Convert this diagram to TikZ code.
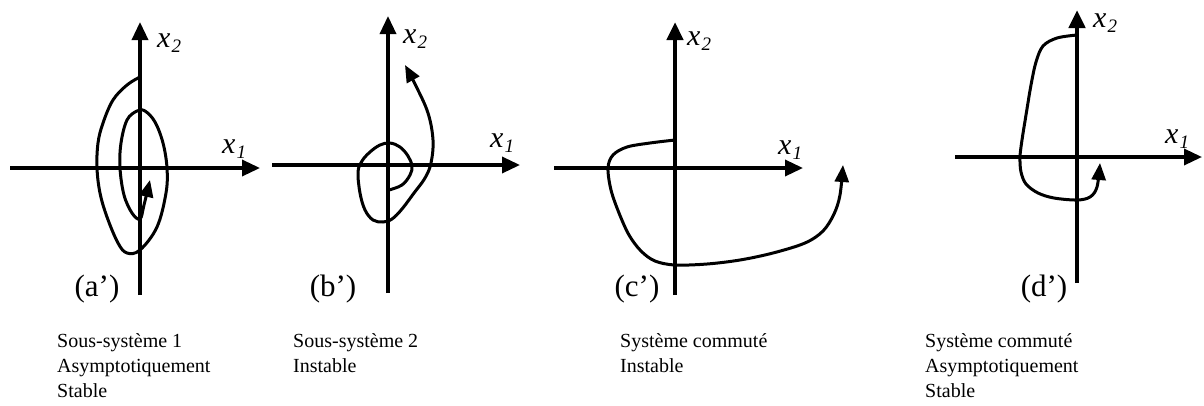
\documentclass[tikz,border=0pt]{standalone}
\usepackage{fontspec}
\setmainfont{Liberation Serif}
\usetikzlibrary{arrows.meta}
\newcommand\axl[1]{x\kern1pt\raisebox{-5pt}{\fontsize{19}{19}\selectfont #1}}
\begin{document}
\begin{tikzpicture}[x=1pt,y=-1pt,
  axis/.style={line width=3.4pt,-{Triangle[length=18pt,width=16pt]}},
  thickaxis/.style={axis,line width=4.6pt},
  traj/.style={line width=3pt,line join=round},
  trajarrow/.style={traj,-{Triangle[length=17pt,width=14pt]}},
  axlabel/.style={anchor=base west,inner sep=0pt,font=\fontsize{30}{30}\selectfont\itshape},
  panel/.style={anchor=base,inner sep=0pt,font=\fontsize{31}{31}\selectfont},
  caption/.style={anchor=base west,inner sep=0pt,font=\fontsize{20}{25}\selectfont}]
\useasboundingbox (0,0) rectangle (1204,405);

% ---------- (a') ----------
\coordinate (a-s) at (140,295); \coordinate (a-n) at (140,22);
\coordinate (a-w) at (10,168);  \coordinate (a-e) at (260,168);
\draw[axis] (a-w) -- (a-e);
\draw[axis] (a-s) -- (a-n);
\node[axlabel] (a-x2) at (157,47) {\axl{2}};
\node[axlabel] (a-x1) at (222,153) {\axl{1}};
\draw[trajarrow] plot[smooth,tension=0.6] coordinates {
 (140,77) (127,85) (113,100) (103,123) (98,143) (97,168) (100,193) (107,217)
 (118,243) (127,253) (140,250) (157,227) (166,193) (167,168) (163,143)
 (155,122) (145,111) (137,111) (127,120) (121,143) (120,168) (124,195)
 (132,213) (140,219) (144,205) (150,180)};
\node[panel] (a-lab) at (97,296) {(a’)};
\node[caption] (a-cap) at (57,347) {\begin{tabular}[t]{@{}l@{}}Sous-système 1\\Asymptotiquement\\Stable\end{tabular}};

% ---------- (b') ----------
\coordinate (b-s) at (388,293); \coordinate (b-n) at (388,16);
\coordinate (b-w) at (272,165); \coordinate (b-e) at (520,165);
\draw[axis] (b-w) -- (b-e);
\draw[axis] (b-s) -- (b-n);
\node[axlabel] (b-x2) at (403,43) {\axl{2}};
\node[axlabel] (b-x1) at (490,147) {\axl{1}};
\draw[trajarrow] plot[smooth,tension=0.6] coordinates {
 (389,190) (402,185) (410,175) (412,166) (408,156) (400,147) (390,143)
 (380,145) (370,152) (362,161) (358,172) (360,193) (365,210) (373,220)
 (383,222) (392,219) (402,209) (414,193) (425,178) (431,163) (433,140)
 (428,113) (416,86) (405,65)};
\node[panel] (b-lab) at (333,296) {(b’)};
\node[caption] (b-cap) at (293,347) {\begin{tabular}[t]{@{}l@{}}Sous-système 2\\Instable\end{tabular}};

% ---------- (c') ----------
\coordinate (c-s) at (675,295); \coordinate (c-n) at (675,22);
\coordinate (c-w) at (554,168); \coordinate (c-e) at (803,168);
\draw[axis] (c-w) -- (c-e);
\draw[thickaxis] (c-s) -- (c-n);
\node[axlabel] (c-x2) at (687,45) {\axl{2}};
\node[axlabel] (c-x1) at (778,154) {\axl{1}};
\draw[trajarrow] plot[smooth,tension=0.55] coordinates {
 (675,140) (650,143) (627,147) (613,155) (608,168) (611,190) (619,213)
 (629,235) (641,251) (655,261) (675,265) (707,264) (740,260) (773,253)
 (805,243) (823,231) (834,214) (840,195) (843,165)};
\node[panel] (c-lab) at (637,296) {(c’)};
\node[caption] (c-cap) at (620,347) {\begin{tabular}[t]{@{}l@{}}Système commuté\\Instable\end{tabular}};

% ---------- (d') ----------
\coordinate (d-s) at (1077,283); \coordinate (d-n) at (1077,10);
\coordinate (d-w) at (955,157); \coordinate (d-e) at (1202,157);
\draw[axis] (d-w) -- (d-e);
\draw[thickaxis] (d-s) -- (d-n);
\node[axlabel] (d-x2) at (1093,27) {\axl{2}};
\node[axlabel] (d-x1) at (1165,143) {\axl{1}};
\draw[trajarrow] plot[smooth,tension=0.55] coordinates {
 (1077,35) (1057,38) (1043,46) (1036,62) (1031,85) (1026,115) (1022,140)
 (1020,157) (1021,172) (1026,184) (1038,193) (1054,198) (1077,200)
 (1090,197) (1097,187) (1100,163)};
\node[panel] (d-lab) at (1044,296) {(d’)};
\node[caption] (d-cap) at (925,347) {\begin{tabular}[t]{@{}l@{}}Système commuté\\Asymptotiquement\\Stable\end{tabular}};
\end{tikzpicture}
\end{document}
